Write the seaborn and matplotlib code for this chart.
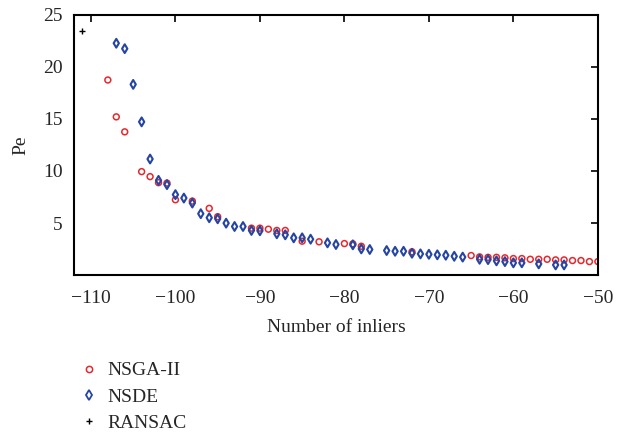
import matplotlib
matplotlib.use("Agg")
import matplotlib.pyplot as plt
import seaborn as sns
import pandas as pd
from matplotlib.lines import Line2D

# NSGA-II (red open circles)
nsga_x = [-108, -107, -106, -104, -103, -102, -101, -100, -98, -96, -95,
          -91, -90, -89, -88, -87, -85, -83, -80, -79, -78, -72,
          -65, -64, -63, -62, -61, -60, -59, -58, -57, -56, -55, -54,
          -53, -52, -51, -50]
nsga_y = [18.74, 15.2, 13.76, 9.94, 9.46, 8.88, 8.84, 7.24, 7.11, 6.41, 5.61,
          4.51, 4.51, 4.41, 4.29, 4.29, 3.26, 3.20, 3.03, 3.0, 2.77, 2.24,
          1.88, 1.75, 1.71, 1.71, 1.66, 1.59, 1.59, 1.52, 1.52, 1.52, 1.46, 1.46,
          1.40, 1.40, 1.30, 1.30]

# NSDE (blue diamonds)
nsde_x = [-107, -106, -105, -104, -103, -102, -101, -100, -99, -98, -97, -96,
          -95, -94, -93, -92, -91, -90, -88, -87, -86, -85, -84, -82, -81,
          -79, -78, -77, -75, -74, -73, -72, -71, -70, -69, -68, -67, -66,
          -64, -63, -62, -61, -60, -59, -57, -55, -54]
nsde_y = [22.27, 21.75, 18.32, 14.72, 11.15, 9.10, 8.69, 7.73, 7.40, 6.92, 5.90, 5.51,
          5.41, 4.99, 4.67, 4.67, 4.29, 4.26, 3.97, 3.87, 3.58, 3.58, 3.45, 3.10, 2.94,
          2.91, 2.52, 2.46, 2.36, 2.29, 2.29, 2.10, 2.04, 2.00, 1.95, 1.91, 1.81, 1.73,
          1.52, 1.49, 1.37, 1.30, 1.18, 1.18, 1.08, 0.98, 0.98]

# RANSAC (black plus)
ransac_x = [-111]
ransac_y = [23.49]

labels = ["NSGA-II", "NSDE", "RANSAC"]
x_ticks = [-110, -100, -90, -80, -70, -60, -50]
y_ticks = [5, 10, 15, 20, 25]

sns.set_style("white")
plt.rcParams["font.family"] = ["Liberation Serif", "DejaVu Serif"]
plt.rcParams["axes.unicode_minus"] = True

fig = plt.figure(figsize=(6.17, 4.36), dpi=100)
ax = fig.add_axes([0.12, 0.369, 0.849, 0.597])

red = "#e8262c"
blue = "#2545a3"

sns.scatterplot(x=nsga_x, y=nsga_y, ax=ax, marker="o", s=18,
                facecolor="none", edgecolor=red, linewidth=1.1, zorder=2)
sns.scatterplot(x=nsde_x, y=nsde_y, ax=ax, marker="d", s=20,
                facecolor="none", edgecolor=blue, linewidth=1.5, zorder=3)
sns.scatterplot(x=ransac_x, y=ransac_y, ax=ax, marker="+", s=18,
                color="black", linewidth=1.0, zorder=4)

ax.set_xlim(-112, -50)
ax.set_ylim(0, 25)
ax.set_xticks(x_ticks)
ax.set_yticks(y_ticks)
ax.set_xlabel("Number of inliers", fontsize=14, labelpad=8)
ax.set_ylabel("Pe", fontsize=14, labelpad=10)
ax.tick_params(axis="both", which="both", direction="in", length=5, width=1.2,
               labelsize=14, top=True, right=True, pad=8, color="black")
ax.tick_params(axis="x", pad=11)
for sp in ax.spines.values():
    sp.set_visible(True)
    sp.set_color("black")
    sp.set_linewidth(1.5)

handles = [
    Line2D([], [], linestyle="none", marker="o", markersize=4.5,
           markerfacecolor="none", markeredgecolor=red, markeredgewidth=1.1),
    Line2D([], [], linestyle="none", marker="d", markersize=5.0,
           markerfacecolor="none", markeredgecolor=blue, markeredgewidth=1.3),
    Line2D([], [], linestyle="none", marker="+", markersize=4.5,
           color="black", markeredgewidth=1.0),
]
fig.legend(handles, labels, loc="upper left", bbox_to_anchor=(0.128, 0.17),
           frameon=False, fontsize=14, handlelength=1.0, handletextpad=0.45,
           labelspacing=0.45, borderaxespad=0, borderpad=0)
fig.savefig("out.png", dpi=100)
